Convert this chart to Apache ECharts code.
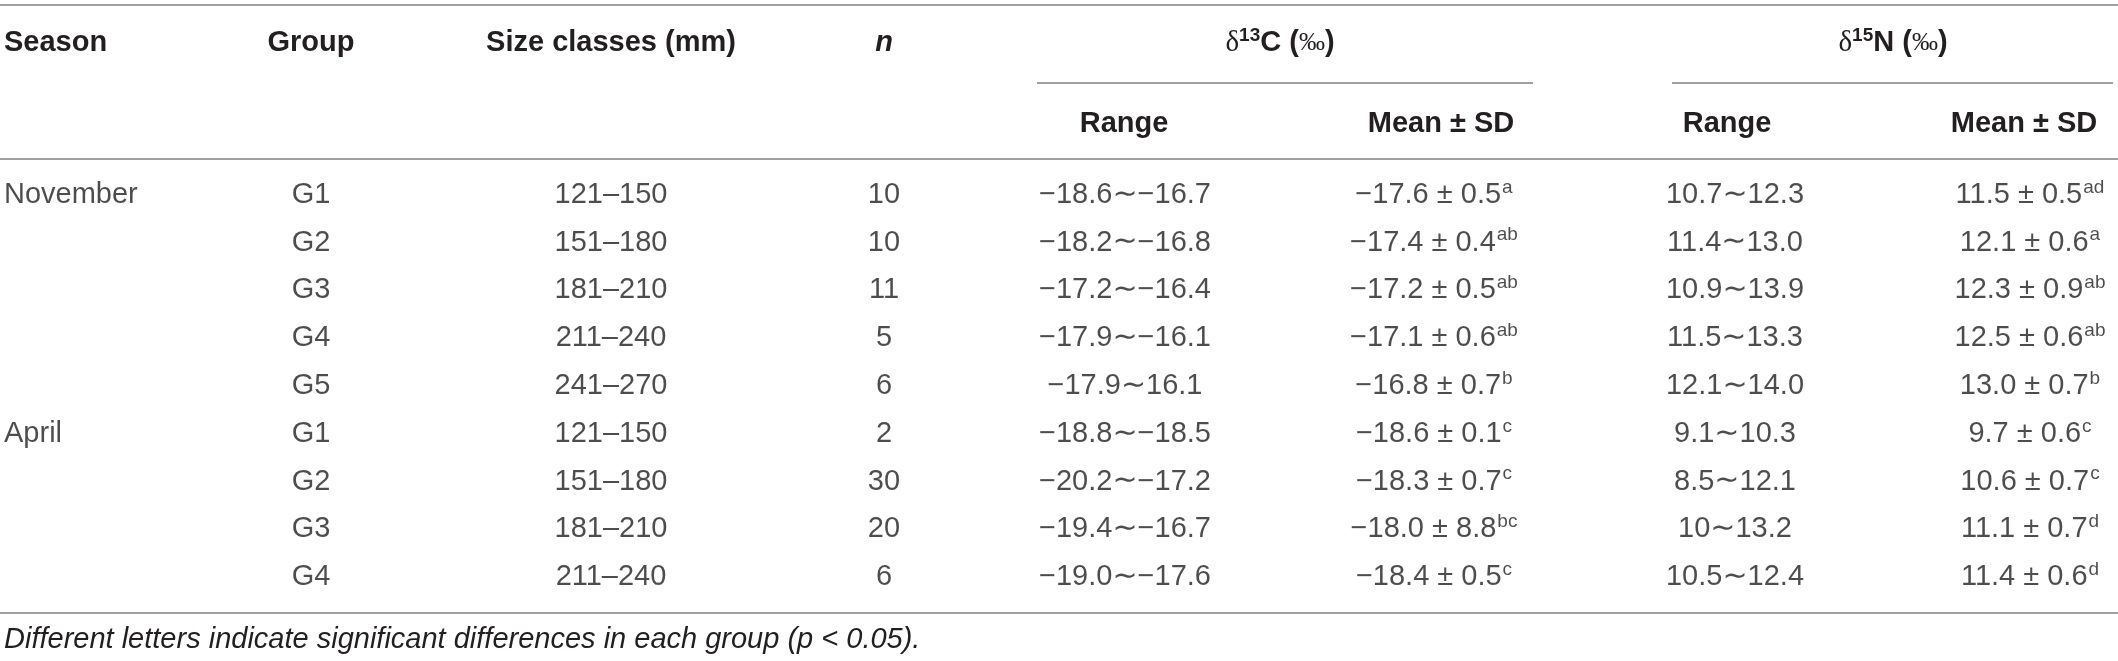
<!doctype html>
<html>
<head>
<meta charset="utf-8">
<title>Stable isotope table</title>
<script src="https://cdn.jsdelivr.net/npm/echarts@6/dist/echarts.min.js"></script>
<style>
  html, body { margin: 0; padding: 0; background: #fff; }
  #main { width: 2118px; height: 661px; }
</style>
</head>
<body>
<div id="main"></div>
<script type="text/javascript">
    // table data
    var seasons = ['November', '', '', '', '', 'April', '', '', ''];
    var groups = ['G1', 'G2', 'G3', 'G4', 'G5', 'G1', 'G2', 'G3', 'G4'];
    var sizeClasses = ['121–150', '151–180', '181–210', '211–240', '241–270', '121–150', '151–180', '181–210', '211–240'];
    var nValues = [10, 10, 11, 5, 6, 2, 30, 20, 6];
    var c13RangeLow = ['−18.6', '−18.2', '−17.2', '−17.9', '−17.9', '−18.8', '−20.2', '−19.4', '−19.0'];
    var c13RangeHigh = ['−16.7', '−16.8', '−16.4', '−16.1', '16.1', '−18.5', '−17.2', '−16.7', '−17.6'];
    var c13Mean = [-17.6, -17.4, -17.2, -17.1, -16.8, -18.6, -18.3, -18.0, -18.4];
    var c13Sd = [0.5, 0.4, 0.5, 0.6, 0.7, 0.1, 0.7, 8.8, 0.5];
    var c13Letters = ['a', 'ab', 'ab', 'ab', 'b', 'c', 'c', 'bc', 'c'];
    var n15RangeLow = ['10.7', '11.4', '10.9', '11.5', '12.1', '9.1', '8.5', '10', '10.5'];
    var n15RangeHigh = ['12.3', '13.0', '13.9', '13.3', '14.0', '10.3', '12.1', '13.2', '12.4'];
    var n15Mean = [11.5, 12.1, 12.3, 12.5, 13.0, 9.7, 10.6, 11.1, 11.4];
    var n15Sd = [0.5, 0.6, 0.9, 0.6, 0.7, 0.6, 0.7, 0.7, 0.6];
    var n15Letters = ['ad', 'a', 'ab', 'ab', 'b', 'c', 'c', 'd', 'd'];
    var footnote = 'Different letters indicate significant differences in each group (p < 0.05).';

    // layout (pixels)
    var W = 2118;
    var colX = { season: 4, group: 311, size: 611, n: 884, c13r: 1125, c13m: 1434, n15r: 1735, n15m: 2030 };
    var headX = { c13: 1280, n15: 1893, c13r: 1124, c13m: 1441, n15r: 1727, n15m: 2024 };
    var FONT = '"Liberation Sans", Arial, sans-serif';
    var FS = 29;
    var TXT = '#231f20';
    var RULE = '#a0a0a0';

    function num(v) {
        return (v < 0 ? '−' : '') + Math.abs(v).toFixed(1);
    }
    function meanSd(m, s, l) {
        return m.map(function (v, i) {
            return '{v|' + num(v) + ' ± ' + s[i].toFixed(1) + '}{s|' + l[i] + '}';
        });
    }
    function range(lo, hi) {
        return lo.map(function (v, i) { return '{v|' + v + '}{t|∼}{v|' + hi[i] + '}'; });
    }

    var rowIds = groups.map(function (g, i) { return 'r' + i; });
    var rich = {
        v: { fontSize: FS, fontFamily: FONT, color: TXT, lineHeight: 34 },
        t: { fontSize: 30, fontFamily: '"DejaVu Sans", sans-serif', color: TXT, lineHeight: 34 },
        s: { fontSize: 19, fontFamily: FONT, color: TXT, lineHeight: 34, verticalAlign: 'top', padding: [0, 0, 0, 1] }
    };

    function column(x, texts, align) {
        return {
            type: 'scatter',
            symbolSize: 0,
            silent: true,
            data: texts.map(function (t, i) { return [x, i]; }),
            label: {
                show: true,
                position: 'inside',
                align: align || 'center',
                verticalAlign: 'middle',
                formatter: function (p) {
                    var t = String(texts[p.dataIndex]);
                    return t.indexOf('{v|') === 0 ? t : '{v|' + t + '}';
                },
                rich: rich
            }
        };
    }

    function hText(x, y, text, align, extra) {
        return {
            type: 'text', x: x, y: y, silent: true,
            style: Object.assign({
                text: text, font: 'bold ' + FS + 'px ' + FONT, fill: TXT,
                align: align || 'center', verticalAlign: 'middle'
            }, extra || {})
        };
    }
    function rule(x1, x2, y) {
        return { type: 'line', silent: true, shape: { x1: x1, y1: y, x2: x2, y2: y }, style: { stroke: RULE, lineWidth: 2 } };
    }
    var deltaRich = {
        d: { fontFamily: '"Liberation Serif", serif', fontSize: FS, fill: TXT, lineHeight: 34 },
        b: { fontFamily: FONT, fontWeight: 'bold', fontSize: FS, fill: TXT, lineHeight: 34 },
        u: { fontFamily: FONT, fontWeight: 'bold', fontSize: 19, fill: TXT, lineHeight: 34, verticalAlign: 'top' },
        p: { fontFamily: '"Liberation Serif", serif', fontSize: 26, fill: TXT, lineHeight: 34 }
    };

    var myChart = echarts.init(document.getElementById('main'));
    var option = {
        animation: false,
        grid: { left: 0, right: 0, top: 171, bottom: 60 },
        xAxis: { type: 'value', min: 0, max: W, show: false },
        yAxis: { type: 'category', data: rowIds, inverse: true, show: false },
        series: [
            column(colX.season, seasons, 'left'),
            column(colX.group, groups),
            column(colX.size, sizeClasses),
            column(colX.n, nValues),
            column(colX.c13r, range(c13RangeLow, c13RangeHigh)),
            column(colX.c13m, meanSd(c13Mean, c13Sd, c13Letters)),
            column(colX.n15r, range(n15RangeLow, n15RangeHigh)),
            column(colX.n15m, meanSd(n15Mean, n15Sd, n15Letters))
        ],
        graphic: [
            rule(0, W, 5),
            rule(1037, 1533, 83),
            rule(1672, 2113, 83),
            rule(0, W, 159),
            rule(0, W, 613),
            hText(colX.season, 43, 'Season', 'left'),
            hText(colX.group, 43, 'Group'),
            hText(colX.size, 43, 'Size classes (mm)'),
            hText(colX.n, 43, 'n', 'center', { font: 'italic bold ' + FS + 'px ' + FONT }),
            hText(headX.c13, 43, '{d|δ}{u|13}{b|C (}{p|‰}{b|)}', 'center', { rich: deltaRich }),
            hText(headX.n15, 43, '{d|δ}{u|15}{b|N (}{p|‰}{b|)}', 'center', { rich: deltaRich }),
            hText(headX.c13r, 124, 'Range'),
            hText(headX.c13m, 124, 'Mean ± SD'),
            hText(headX.n15r, 124, 'Range'),
            hText(headX.n15m, 124, 'Mean ± SD'),
            hText(4, 640, footnote, 'left', { font: 'italic ' + FS + 'px ' + FONT })
        ]
    };
    myChart.setOption(option);
</script>
</body>
</html>
